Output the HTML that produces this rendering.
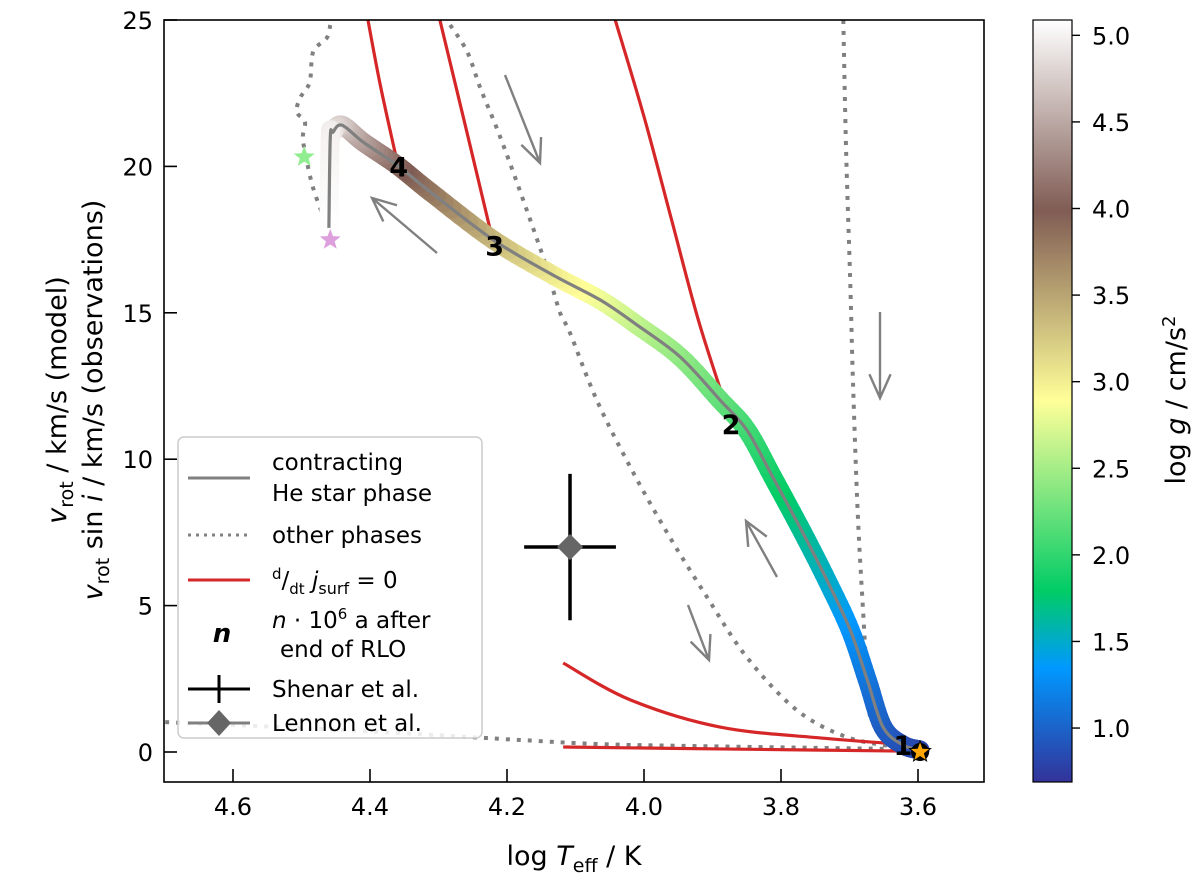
<!DOCTYPE html>
<html><head><meta charset="utf-8"><style>
html,body{margin:0;padding:0;background:#fff;}
svg{display:block;font-family:"DejaVu Sans","Liberation Sans",sans-serif;}
</style></head><body>
<svg id="chart" width="1200" height="880" viewBox="0 0 1200 880" xmlns="http://www.w3.org/2000/svg">
<defs>
<linearGradient id="cbgrad" x1="0" y1="1" x2="0" y2="0">
<stop offset="0" stop-color="#333399"/><stop offset="0.15" stop-color="#0099ff"/><stop offset="0.25" stop-color="#00cc66"/><stop offset="0.5" stop-color="#ffff99"/><stop offset="0.75" stop-color="#805c54"/><stop offset="1" stop-color="#ffffff"/>
</linearGradient>
<clipPath id="plotclip"><rect x="164" y="20" width="820" height="762"/></clipPath>
</defs>
<g id="plot" clip-path="url(#plotclip)"></g>
<g id="over"></g>
<rect x="164" y="20" width="820" height="762" fill="none" stroke="#000" stroke-width="1.6"/>
<g id="axes"></g>
<text x="574" y="865" font-size="27" text-anchor="middle">log <tspan font-style="italic">T</tspan><tspan font-size="19" dy="7">eff</tspan><tspan dy="-7"> / K</tspan></text>
<text transform="translate(66,400) rotate(-90)" font-size="27" text-anchor="middle"><tspan font-style="italic">v</tspan><tspan font-size="19" dy="7">rot</tspan><tspan dy="-7"> / km/s (model)</tspan></text>
<text transform="translate(102,400) rotate(-90)" font-size="27" text-anchor="middle"><tspan font-style="italic">v</tspan><tspan font-size="19" dy="7">rot</tspan><tspan dy="-7"> sin </tspan><tspan font-style="italic">i</tspan> / km/s (observations)</text>
<rect x="1033" y="20" width="39" height="762" fill="url(#cbgrad)" stroke="#000" stroke-width="1.2"/>
<g id="cbaxis"></g>
<text transform="translate(1185,400) rotate(-90)" font-size="27" text-anchor="middle">log <tspan font-style="italic">g</tspan> / cm/s<tspan font-size="18" dy="-10">2</tspan></text>
<g>
<rect x="178" y="437" width="304" height="301" rx="6" fill="#fff" fill-opacity="0.85" stroke="#ccc" stroke-width="1.5"/>
<line x1="188" y1="478" x2="250" y2="478" stroke="#808080" stroke-width="3"/>
<text x="272" y="470" font-size="23">contracting</text>
<text x="272" y="501" font-size="23">He star phase</text>
<line x1="188" y1="535" x2="250" y2="535" stroke="#808080" stroke-width="3" stroke-dasharray="3,5"/>
<text x="272" y="543" font-size="23">other phases</text>
<line x1="188" y1="580" x2="250" y2="580" stroke="#d62728" stroke-width="3"/>
<text x="272" y="588" font-size="23"><tspan font-size="15" dy="-9">d</tspan><tspan dy="9">/</tspan><tspan font-size="15" dy="6">dt</tspan><tspan dy="-6" font-style="italic"> j</tspan><tspan font-size="16" dy="6">surf</tspan><tspan dy="-6"> = 0</tspan></text>
<text x="222" y="642" font-size="26" font-weight="bold" font-style="italic" text-anchor="middle">n</text>
<text x="272" y="628" font-size="23"><tspan font-style="italic">n</tspan> · 10<tspan font-size="15" dy="-9">6</tspan><tspan dy="9"> a after</tspan></text>
<text x="280" y="657" font-size="23">end of RLO</text>
<line x1="188" y1="689" x2="250" y2="689" stroke="#000" stroke-width="3"/>
<line x1="219" y1="675" x2="219" y2="703" stroke="#000" stroke-width="3"/>
<text x="272" y="697" font-size="23">Shenar et al.</text>
<line x1="188" y1="723" x2="250" y2="723" stroke="#808080" stroke-width="3"/>
<path d="M219,710 L231,723 L219,736 L207,723 Z" fill="#666"/>
<text x="272" y="731" font-size="23">Lennon et al.</text>
</g>
</svg>
<script>
// ---- data ----
const trackT = [3.597,3.622,3.651,3.674,3.699,3.733,3.768,3.812,3.850,3.889,3.947,4.010,4.064,4.133,4.220,4.312,4.361,4.410,4.441,4.454,4.458,4.460];
const trackV = [0.07,0.24,0.85,2.46,4.17,5.87,7.48,9.39,11.00,12.02,13.49,14.58,15.44,16.29,17.49,19.13,20.05,20.83,21.41,21.17,20.97,17.90];
const trackG = [0.8,0.85,0.95,1.1,1.3,1.5,1.65,1.85,2.05,2.2,2.4,2.6,2.8,3.0,3.35,3.8,4.05,4.4,4.7,4.9,5.0,5.1];
const dotAT = [4.283,4.258,4.239,4.215,4.191,4.162,4.142,4.123,4.108,4.069,4.020,3.966,3.908,3.850,3.777,3.704,3.631,3.601];
const dotAV = [24.83,23.91,22.68,21.31,19.81,17.90,16.53,15.03,14.31,12.02,9.73,7.48,5.29,3.24,1.43,0.51,0.17,0.07];
const dotLT = [4.458,4.463,4.483,4.488,4.502,4.507,4.495,4.498,4.492,4.483,4.469,4.458];
const dotLV = [24.83,24.39,23.91,22.88,22.34,21.86,21.52,20.97,20.15,19.26,18.34,17.66];
const dotVT = [3.709,3.705,3.699,3.695,3.688,3.680,3.674,3.666,3.622,3.600];
const dotVV = [25.0,20.56,16.12,12.70,8.16,4.75,2.46,0.99,0.31,0.03];
const dotBT = [4.699,4.502,4.327,4.181,4.064,3.918,3.626];
const dotBV = [1.02,0.82,0.61,0.41,0.27,0.20,0.10];
const redAT = [4.403,4.385,4.361], redAV = [25.0,22.78,20.22];
const redBT = [4.298,4.261,4.222], redBV = [25.0,21.41,17.59];
const redCT = [4.042,4.000,3.960,3.920,3.876], redCV = [25.0,21.7,18.2,14.7,11.5];
const redDT = [4.118,4.020,3.889,3.743,3.615], redDV = [3.04,1.78,0.85,0.48,0.25];
const redET = [4.118,3.874,3.615], redEV = [0.17,0.10,0.03];
const labelT = [3.622,3.873,4.218,4.358], labelV = [0.24,11.2,17.3,20.0], labelN = ['1','2','3','4'];
const shenarT = 4.108, shenarV = 7.0, shenarXerr = 0.067, shenarYerr = 2.5;
const xTicks = [4.6,4.4,4.2,4.0,3.8,3.6];
const yTicks = [0,5,10,15,20,25];
const cbTicks = [1.0,1.5,2.0,2.5,3.0,3.5,4.0,4.5,5.0];
// ---- scales ----
const X = t => 918 + (3.6 - t) * 685;
const Y = v => 752 - v * 29.28;
const CB = g => 780 - (g - 0.7) / 4.4 * 762;
const NS = 'http://www.w3.org/2000/svg';
const plot = document.getElementById('plot'), over = document.getElementById('over'), axes = document.getElementById('axes'), cbax = document.getElementById('cbaxis');
function mk(tag, attrs, parent){const e=document.createElementNS(NS,tag);for(const k in attrs)e.setAttribute(k,attrs[k]);parent.appendChild(e);return e;}
function pathD(T,V){const P=T.map((t,i)=>[X(t),Y(V[i])]);let d='M'+P[0][0]+','+P[0][1];for(let i=0;i<P.length-1;i++){const p0=P[i-1]||P[i],p1=P[i],p2=P[i+1],p3=P[i+2]||P[i+1];const c1=[p1[0]+(p2[0]-p0[0])/6,p1[1]+(p2[1]-p0[1])/6],c2=[p2[0]-(p3[0]-p1[0])/6,p2[1]-(p3[1]-p1[1])/6];d+=' C'+c1[0]+','+c1[1]+' '+c2[0]+','+c2[1]+' '+p2[0]+','+p2[1];}return d;}
function cr(a,b,c,d,u){return 0.5*((2*b)+(-a+c)*u+(2*a-5*b+4*c-d)*u*u+(-a+3*b-3*c+d)*u*u*u);}
const stops=[[0,[51,51,153]],[0.15,[0,153,255]],[0.25,[0,204,102]],[0.5,[255,255,153]],[0.75,[128,92,84]],[1,[255,255,255]]];
function cmap(g){let f=Math.max(0,Math.min(1,(g-0.7)/4.4));for(let i=1;i<stops.length;i++){if(f<=stops[i][0]){const a=stops[i-1],b=stops[i];const u=(f-a[0])/(b[0]-a[0]);return 'rgb('+a[1].map((c,j)=>Math.round(c+(b[1][j]-c)*u)).join(',')+')';}}return '#fff';}
// dotted
[[dotAT,dotAV,'dotted-phase-a'],[dotLT,dotLV,'dotted-phase-left'],[dotVT,dotVV,'dotted-phase-vertical'],[dotBT,dotBV,'dotted-phase-bottom']].forEach(s=>{
 const p=mk('path',{d:pathD(s[0],s[1]),fill:'none',stroke:'#808080','stroke-width':4,'stroke-dasharray':'4,7'},plot);
 
 
});
// red
[[redAT,redAV,'djdt-zero-a'],[redBT,redBV,'djdt-zero-b'],[redCT,redCV,'djdt-zero-c'],[redDT,redDV,'djdt-zero-d'],[redET,redEV,'djdt-zero-e']].forEach(s=>{
 const p=mk('path',{d:pathD(s[0],s[1]),fill:'none',stroke:'#d62728','stroke-width':3.2},plot);
 
 
});
// colored track (spline-sampled)
const N=trackT.length;
for(let i=0;i<N-1;i++){
 const a=Math.max(0,i-1),b=i,c=i+1,d=Math.min(N-1,i+2);
 const n=8;
 for(let k=0;k<n;k++){
  const u0=k/n,u1=(k+1)/n;
  const x0=cr(X(trackT[a]),X(trackT[b]),X(trackT[c]),X(trackT[d]),u0),x1=cr(X(trackT[a]),X(trackT[b]),X(trackT[c]),X(trackT[d]),u1);
  const y0=cr(Y(trackV[a]),Y(trackV[b]),Y(trackV[c]),Y(trackV[d]),u0),y1=cr(Y(trackV[a]),Y(trackV[b]),Y(trackV[c]),Y(trackV[d]),u1);
  const g=trackG[b]+(trackG[c]-trackG[b])*(u0+u1)/2;
  const l=mk('line',{x1:x0,y1:y0,x2:x1,y2:y1,stroke:cmap(g),'stroke-width':19,'stroke-linecap':'round'},plot);
  
  
 }
}
const tl=mk('path',{d:pathD(trackT,trackV),fill:'none',stroke:'#808080','stroke-width':3.2},plot);


// arrows (pixel annotations)
[[505,75,540,163],[437,253,372,198],[880,312,880,398],[777,577,746,521],[688,605,709,660]].forEach(a=>{
 const [x1,y1,x2,y2]=a;const ang=Math.atan2(y2-y1,x2-x1),h=26,w=0.42;
 const d='M'+x1+','+y1+' L'+x2+','+y2+' M'+(x2-h*Math.cos(ang-w))+','+(y2-h*Math.sin(ang-w))+' L'+x2+','+y2+' L'+(x2-h*Math.cos(ang+w))+','+(y2-h*Math.sin(ang+w));
 const p=mk('path',{d:d,fill:'none',stroke:'#808080','stroke-width':2.4},plot);
 
 
});
// observation
const sx=X(shenarT),sy=Y(shenarV);
const e1=mk('line',{x1:X(shenarT+shenarXerr),y1:sy,x2:X(shenarT-shenarXerr),y2:sy,stroke:'#000','stroke-width':3.5},plot);


const e2=mk('line',{x1:sx,y1:Y(shenarV+shenarYerr),x2:sx,y2:Y(shenarV-shenarYerr),stroke:'#000','stroke-width':3.5},plot);


const dm=mk('path',{d:'M'+sx+','+(sy-13)+' L'+(sx+13)+','+sy+' L'+sx+','+(sy+13)+' L'+(sx-13)+','+sy+' Z',fill:'#666'},plot);


// stars
function star(cx,cy,r,fill,name,stroke){let d='';for(let i=0;i<10;i++){const a=-Math.PI/2+i*Math.PI/5,rr=i%2?r*0.42:r;d+=(i?'L':'M')+(cx+rr*Math.cos(a))+','+(cy+rr*Math.sin(a));}
 const s=mk('path',{d:d+'Z',fill:fill,stroke:stroke||'none','stroke-width':1},over);
 
 }
const bc=mk('circle',{cx:X(3.597),cy:Y(0),r:9,fill:'#000'},over);


star(X(4.496),Y(20.32),11,'#90ee90','start-star-green');
star(X(4.458),Y(17.49),11,'#dda0dd','end-star-pink');
// labels
labelN.forEach((n,i)=>{
 const t=mk('text',{x:X(labelT[i]),y:Y(labelV[i])+10,'font-size':27,'font-weight':'bold','text-anchor':'middle'},over);
 t.textContent=n;
 
 
});
star(X(3.597),Y(0),11,'#ffa500','current-star-orange','#000');
// axes ticks
xTicks.forEach(t=>{
 const x=X(t);
 const l=mk('line',{x1:x,y1:782,x2:x,y2:769,stroke:'#000','stroke-width':1.6},axes);
 
 
 const tx=mk('text',{x:x,y:815,'font-size':24,'text-anchor':'middle'},axes);
 tx.textContent=t.toFixed(1);
 
 
});
yTicks.forEach(v=>{
 const y=Y(v);
 const l=mk('line',{x1:164,y1:y,x2:177,y2:y,stroke:'#000','stroke-width':1.6},axes);
 
 
 const tx=mk('text',{x:153,y:y+9,'font-size':24,'text-anchor':'end'},axes);
 tx.textContent=v;
 
 
});
cbTicks.forEach(g=>{
 const y=CB(g);
 const l=mk('line',{x1:1072,y1:y,x2:1080,y2:y,stroke:'#000','stroke-width':1.4},cbax);
 
 
 const tx=mk('text',{x:1092,y:y+9,'font-size':24},cbax);
 tx.textContent=g.toFixed(1);
 
 
});
</script>
</body></html>
